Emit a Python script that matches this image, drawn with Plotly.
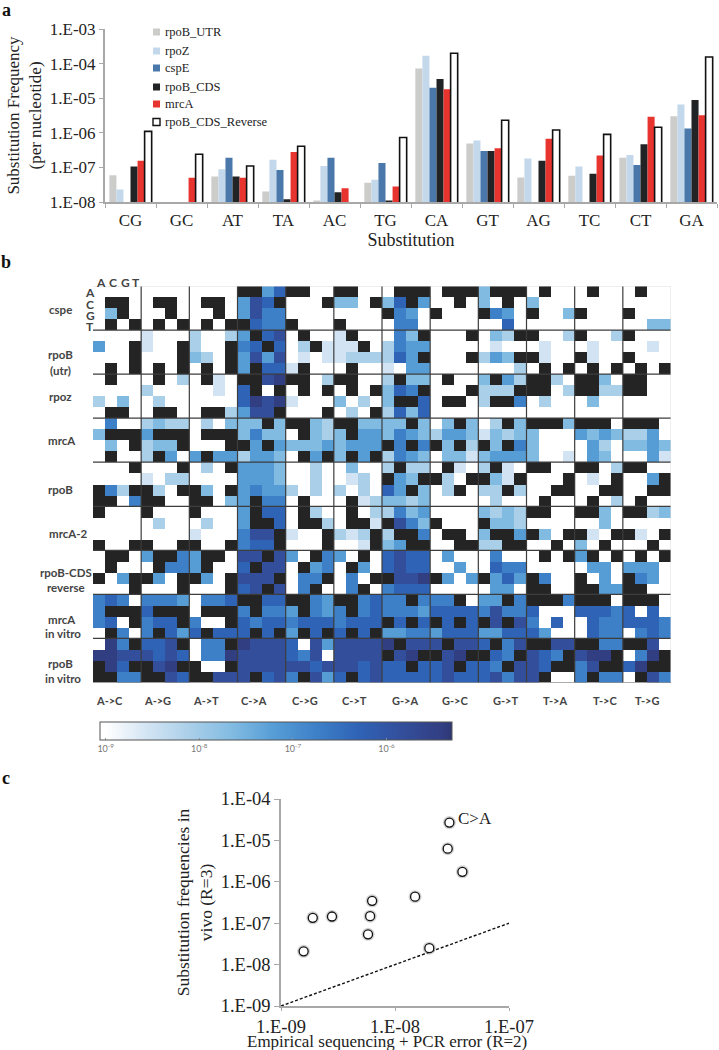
import plotly.graph_objects as go
import math

W, H = 719, 1050
SERIF = "Liberation Serif"
SANS = "Lato"

# ---- panel a ----
substitutions = ["CG", "GC", "AT", "TA", "AC", "TG", "CA", "GT", "AG", "TC", "CT", "GA"]
rpoB_UTR = [5.9e-8, None, 5.5e-8, 2.0e-8, 1.1e-8, 3.6e-8, 7.2e-5, 4.9e-7, 5.1e-8, 5.7e-8, 1.9e-7, 3.0e-6]
rpoZ = [2.3e-8, None, 8.8e-8, 1.66e-7, 1.1e-7, 4.4e-8, 1.7e-4, 6.0e-7, 1.8e-7, 1.07e-7, 2.3e-7, 6.6e-6]
cspE = [None, None, 1.9e-7, 8.4e-8, 1.9e-7, 1.33e-7, 2.0e-5, 3.0e-7, None, None, 1.17e-7, 1.33e-6]
rpoB_CDS = [1.07e-7, None, 5.5e-8, 1.2e-8, 1.9e-8, 1.1e-8, 3.6e-5, 3.0e-7, 1.56e-7, 6.6e-8, 4.7e-7, 8.9e-6]
mrcA = [1.56e-7, 5.0e-8, 5.0e-8, 2.8e-7, 2.5e-8, 2.8e-8, 1.8e-5, 3.6e-7, 6.7e-7, 2.2e-7, 2.9e-6, 3.2e-6]
rpoB_CDS_Reverse = [1.1e-6, 2.4e-7, 1.1e-7, 4.1e-7, None, 7.3e-7, 2.0e-4, 2.3e-6, 1.2e-6, 9.0e-7, 1.45e-6, 1.55e-4]
y_tick_vals = [1e-8, 1e-7, 1e-6, 1e-5, 1e-4, 1e-3]
y_tick_text = ["1.E-08", "1.E-07", "1.E-06", "1.E-05", "1.E-04", "1.E-03"]

# ---- panel b: one string per row, "." none/lowest, 1-8 blue level, X no data (black) ----
cspe_rows = [
    ".... .... .... XX46 XX.. XX.. .XXX .XXX 3XXX .X.. .X.. .X..",
    ".XX. .XX. .XX. 476X ...X 33.X 36X4 ..X. 3.X. 3... .... ....",
    ".3X. ..X. ..X. 4755 .... .... X54. X... X54. X..3 X... X...",
    ".X.X .X.X .X.X X655 X... X... .55. .... ..6. .... .... ..33",
]
rpoB_utr_rows = [
    ".... 1... 2..2 4X67 .X.. 1X.. .53X ...X .32X X..2 X..2 X...",
    "4..X 1..X 2..X 56X6 .2X1 11X. 2544 .... .1.. .1.. .1.. ..1.",
    "...X ...X 32.X 4747 .1.1 1222 264X ...X 243X X1.. X1.. X...",
    ".X.X .X.X .X.X 4X66 1X.. .X.. 1.44 .... ...2 .X.X .X.X .X.X",
]
rpoz_rows = [
    ".X.. .X.2 .X1. XX78 XX.2 XX.. 2X33 .X.. 3X42 XX2. XX3. XX..",
    ".... 2... ..1. 6X.X .X.X .X.X 365X ...X 222X XX.2 XX22 XX..",
    "2.3. .2.. .... 6878 1... 3.2. 3XX6 .XX. 2XX5 .2.. .3.. ....",
    ".XX. .XX. .XX2 477X ...X .2.X 2636 .... .... .... .... ....",
]
mrcA_rows = [
    ".5.. 2322 .2.3 33X3 XX32 XX33 33X3 .3X3 .2X3 XXX3 XXX. XXX.",
    "3XXX 4XXX .XXX 3533 .X32 3X44 3543 2443 1323 3... 4343 224.",
    ".3.X 233X ...X X4X4 3334 3444 X5X5 X3X2 X3X5 3... .42. 3343",
    ".X.. 2X4. 4X44 2443 .X4X 3X4X 2543 .331 3444 3..1 .43. ..41",
]
rpoB_rows = [
    "...X ...X .2.X 4443 ..2. .3.. 2X22 .X1. 2X1. XX.. XX.2 XX..",
    ".... 1.22 .... 4443 ..2. .12. X43X X2.X X31X ...X .1.X ..4X",
    "X52X X2.X X3.X 4544 2.2. 2.2. 64X3 .2X. 22X2 ..XX ..XX ..XX",
    "XX.5 XX.. XX.3 4X55 .X.. .X12 3323 .... .2.. .X.. .X.2 .X..",
]
mrcA_2_rows = [
    "X... X... X... 4X66 .X2. .X.2 2534 .... 3232 XX.. XX3. XX23",
    ".... .2.. .2.. 4XX6 .XX2 .XX1 X753 X... X332 .... ..3. ....",
    ".... .... 1... 577X 1..X 212X 2XX5 .XX. 3XX4 X3.X X1.X X1.X",
    "X..X X..X X..X 566X ...X ..1X 34XX ..XX 22XX ..X. 3.X. ..X.",
]
rpoB_CDS_reverse_rows = [
    ".XX. 4XX5 4XX. 77X7 4.X5 4.X. 6766 .4.. .5.. .X.X 4X.X .X.X",
    ".X.. .X55 4X.. 6X77 .X45 .X4. 6766 ..4. .655 .... .44. 444.",
    "X.4X X4.X X4.X 777X .55X .5.X X778 X4.4 X464 X5.. X.4. X54.",
    "...X ...X ...X 67X7 .5X. .5X. 5666 .... .44. XX.. XX44 XX..",
]
mrcA_in_vitro_rows = [
    "565. 5554 .556 XX66 XX54 XX56 55X5 55X. 44X5 XXX5 XXX. XXX.",
    "5XXX 6XXX .XXX 5X55 4X54 5X56 5554 6666 5755 6... 6665 6.6.",
    "56.X 566X 5..X 6566 5666 5666 X6X6 X6X6 X7X7 5.6. .655 6665",
    ".X5. 5X64 6X66 6X6X 4X6X 6X6X 4455 4666 4466 64.. .655 .565",
]
rpoB_in_vitro_rows = [
    ".85X 667X .55X 8777 6.74 7777 8X77 7X77 6X57 XX77 XX55 XX7.",
    "8877 7676 .558 7777 657. 7777 X78X X78X X65X 765X 788X .58X",
    "X86X X78X X..X 7777 7767 7767 66X6 67X6 65X7 76XX 57XX 68XX",
    "XX55 XX76 XX77 7X67 5X74 6X67 6666 6766 6757 7X.. 5X55 .X75",
]
heat_rows = (cspe_rows + rpoB_utr_rows + rpoz_rows + mrcA_rows + rpoB_rows + mrcA_2_rows
             + rpoB_CDS_reverse_rows + mrcA_in_vitro_rows + rpoB_in_vitro_rows)
level_colors = ["#ffffff", "#d2e4f3", "#aacfe9", "#82bbe2", "#569dd6", "#3e80c8", "#2f63b6", "#334f9c", "#323e82"]
bar_tick_vals = [-9, -8, -7, -6]
bar_tick_text = ["10<sup>-9</sup>", "10<sup>-8</sup>", "10<sup>-7</sup>", "10<sup>-6</sup>"]
Z_MIN, Z_MAX, LEVEL_STEP = -9.06, -5.3, 0.45
group_labels = ["A->C", "A->G", "A->T", "C->A", "C->G", "C->T", "G->A", "G->C", "G->T", "T->A", "T->C", "T->G"]
group_label_px = [110, 157, 206, 254, 305, 354, 405, 455, 505, 555, 605, 647]
sample_labels = [("cspe", 60, 309), ("rpoB", 61, 354), ("(utr)", 61, 370), ("rpoz", 60, 397), ("mrcA", 62, 440),
                 ("rpoB", 61, 489), ("mrcA-2", 68, 533), ("rpoB-CDS", 66, 572), ("reverse", 66, 587),
                 ("mrcA", 62, 619), ("in vitro", 63, 633), ("rpoB", 61, 663), ("in vitro", 63, 678)]

# ---- panel c ----
pcr_error = [1.58e-9, 1.9e-9, 2.8e-9, 5.8e-9, 6.05e-9, 6.3e-9, 1.5e-8, 2.0e-8, 2.9e-8, 3.0e-8, 3.9e-8]
in_vivo = [2.09e-8, 1.35e-7, 1.45e-7, 5.4e-8, 1.48e-7, 3.47e-7, 4.37e-7, 2.5e-8, 6.3e-6, 2.7e-5, 1.74e-6]
identity = [1e-9, 1e-7]


def px(x):
    return x / W


def py(y):
    return 1 - y / H


def level_value(ch):
    if ch == "X":
        return None
    return -9 + LEVEL_STEP * (0 if ch == "." else int(ch))


fig = go.Figure()

# panel a bars
series = [("rpoB_UTR", rpoB_UTR, "#cccccb"), ("rpoZ", rpoZ, "#c4d8ec"), ("cspE", cspE, "#4a78aa"),
          ("rpoB_CDS", rpoB_CDS, "#222324"), ("mrcA", mrcA, "#e8342f")]
for name, vals, col in series:
    fig.add_trace(go.Bar(x=substitutions, y=vals, name=name, marker=dict(color=col, line=dict(width=0)),
                         xaxis="x", yaxis="y", showlegend=False))
fig.add_trace(go.Bar(x=substitutions, y=rpoB_CDS_Reverse, name="rpoB_CDS_Reverse",
                     marker=dict(color="white", line=dict(color="#111111", width=1.6)),
                     xaxis="x", yaxis="y", showlegend=False))

# panel b heat map
z = [[level_value(c) for c in row.replace(" ", "")] for row in heat_rows]
stops = []
for i, c in enumerate(level_colors):
    v = -9 + LEVEL_STEP * i
    stops.append([(v - Z_MIN) / (Z_MAX - Z_MIN), c])
colorscale = [[0, level_colors[0]]] + stops + [[1, "#2d3873"]]
fig.add_trace(go.Heatmap(
    z=z, x=[i + 0.5 for i in range(48)], y=[i + 0.5 for i in range(36)],
    zmin=Z_MIN, zmax=Z_MAX, colorscale=colorscale, xaxis="x2", yaxis="y2", hoverongaps=False,
    colorbar=dict(orientation="h", x=px(276), xanchor="center", y=py(722), yanchor="top",
                  lenmode="pixels", len=352, thicknessmode="pixels", thickness=18,
                  outlinecolor="#555555", outlinewidth=1, tickvals=bar_tick_vals, ticktext=bar_tick_text,
                  ticks="inside", ticklen=2, tickcolor="#999999",
                  tickfont=dict(family=SANS, size=9, color="#777777"), xpad=0, ypad=0)))

# panel c
fig.add_trace(go.Scatter(x=identity, y=identity, mode="lines", xaxis="x3", yaxis="y3", showlegend=False,
                         line=dict(color="#111111", width=1.4, dash="3px,2px")))
fig.add_trace(go.Scatter(x=pcr_error, y=in_vivo, mode="markers", xaxis="x3", yaxis="y3", showlegend=False,
                         marker=dict(size=13, color="rgba(0,0,0,0.18)", line=dict(width=0))))
fig.add_trace(go.Scatter(x=pcr_error, y=in_vivo, mode="markers", xaxis="x3", yaxis="y3", showlegend=False,
                         marker=dict(size=9, color="white", line=dict(color="#111111", width=1.3))))

shapes = [dict(type="rect", xref="x2", yref="y2", x0=0, x1=48, y0=0, y1=36, fillcolor="#242424",
               line=dict(width=0), layer="below")]
for i in range(1, 12):
    shapes.append(dict(type="line", xref="x2", yref="y2", x0=i * 4, x1=i * 4, y0=0, y1=36,
                       line=dict(color="#3d3d3d", width=1.2)))
for i in range(1, 9):
    shapes.append(dict(type="line", xref="x2", yref="y2", x0=0, x1=48, y0=i * 4, y1=i * 4,
                       line=dict(color="#3d3d3d", width=1.2)))
shapes.append(dict(type="line", xref="x2", yref="y2", x0=0, x1=48, y0=0, y1=0, line=dict(color="#dddddd", width=1)))
shapes.append(dict(type="line", xref="x2", yref="y2", x0=48, x1=48, y0=0, y1=36, line=dict(color="#dddddd", width=1)))
shapes.append(dict(type="line", xref="x2", yref="y2", x0=0, x1=48, y0=36, y1=36, line=dict(color="#777777", width=1)))

ann = []


def text(s, x, y, size, family=SERIF, color="#222222", bold=False, anchor="center"):
    ann.append(dict(text=f"<b>{s}</b>" if bold else s, x=px(x), y=py(y), xref="paper", yref="paper",
                    showarrow=False, xanchor=anchor, yanchor="middle",
                    font=dict(family=family, size=size, color=color)))


# hand-placed legend for panel a
legend_y = [32, 51, 68, 87, 104, 122]
for (name, _, col), ly in zip(series, legend_y):
    shapes.append(dict(type="rect", xref="paper", yref="paper", x0=px(153), x1=px(160), y0=py(ly + 3.5), y1=py(ly - 3.5),
                       fillcolor=col, line=dict(width=0)))
    text(name, 163, ly, 12.5, anchor="left")
shapes.append(dict(type="rect", xref="paper", yref="paper", x0=px(153), x1=px(160), y0=py(125.5), y1=py(118.5),
                   fillcolor="white", line=dict(color="#111111", width=1.4)))
text("rpoB_CDS_Reverse", 163, 122, 12.5, anchor="left")

text("a", 6, 10, 18, bold=True, color="#111111")
text("b", 6, 262, 18, bold=True, color="#111111")
text("c", 6, 778, 18, bold=True, color="#111111")
text("Empirical sequencing + PCR error (R=2)", 387, 1041, 17)

for name, x, y in sample_labels:
    text(name, x, y, 11.5, family=SANS, color="#444444", bold=True)
for name, x in zip("ACGT", [101, 113, 125, 136]):
    text(name, x, 282, 12, family=SANS, color="#444444", bold=True)
for name, y in zip("ACGT", [293, 304, 315, 326]):
    text(name, 90, y, 12, family=SANS, color="#444444", bold=True)
for name, x in zip(group_labels, group_label_px):
    text(name, x, 700, 11, family=SANS, color="#444444", bold=True)

ann.append(dict(text="C>A", x=math.log10(5.0e-8), y=math.log10(3.3e-5),
                xref="x3", yref="y3", showarrow=False, xanchor="center", yanchor="middle",
                font=dict(family=SERIF, size=17, color="#222222")))

font_a = dict(family=SERIF, size=17, color="#222222")
font_c = dict(family=SERIF, size=18.5, color="#222222")
gray = "#a8a8a8"
fig.update_layout(
    width=W, height=H, autosize=False, margin=dict(l=0, r=0, t=0, b=0, autoexpand=False),
    paper_bgcolor="white", plot_bgcolor="white",
    barmode="group", bargap=0.17, bargroupgap=0, showlegend=False, shapes=shapes, annotations=ann,
    xaxis=dict(domain=[px(105), px(717)], anchor="y", type="category", range=[-0.5, 11.5], tickson="boundaries",
               ticks="outside", ticklen=4, tickcolor=gray, linecolor=gray, linewidth=1.5, showline=True,
               showgrid=False, tickfont=font_a, ticklabelstandoff=2,
               title=dict(text="Substitution", font=dict(family=SERIF, size=18, color="#222222"), standoff=1)),
    yaxis=dict(domain=[py(202), py(29)], anchor="x", type="log", range=[-8, -3], tickvals=y_tick_vals,
               ticktext=y_tick_text, ticks="outside", ticklen=4, tickcolor=gray, linecolor=gray, linewidth=2,
               showline=True, showgrid=False, zeroline=False, tickfont=font_a,
               title=dict(text="Substitution Frequency<br>(per nucleotide)", font=font_a, standoff=4)),
    xaxis2=dict(domain=[px(93), px(671)], anchor="y2", range=[0, 48], visible=False),
    yaxis2=dict(domain=[py(682.5), py(286)], anchor="x2", range=[36, 0], visible=False),
    xaxis3=dict(domain=[px(281), px(509)], anchor="y3", type="log", range=[-9, -7], tickvals=[1e-9, 1e-8, 1e-7],
                ticktext=["1.E-09", "1.E-08", "1.E-07"], ticks="outside", ticklen=3, tickcolor=gray, linecolor=gray,
                linewidth=1.5, showline=True, showgrid=False, zeroline=False, tickfont=font_c),
    yaxis3=dict(domain=[py(1006), py(799)], anchor="x3", type="log", range=[-9, -4],
                tickvals=[1e-9, 1e-8, 1e-7, 1e-6, 1e-5, 1e-4],
                ticktext=["1.E-09", "1.E-08", "1.E-07", "1.E-06", "1.E-05", "1.E-04"], ticks="outside", ticklen=5,
                tickcolor=gray, linecolor=gray, linewidth=1.5, showline=True, showgrid=False, zeroline=False,
                tickfont=font_c,
                title=dict(text="Substitution frequencies in<br>vivo (R=3)", font=dict(family=SERIF, size=17.5, color="#222222"), standoff=4)),
)

fig.write_html("out.html", config={"displayModeBar": False},
               post_script='document.body.style.margin="0";document.documentElement.style.overflow="hidden";')
